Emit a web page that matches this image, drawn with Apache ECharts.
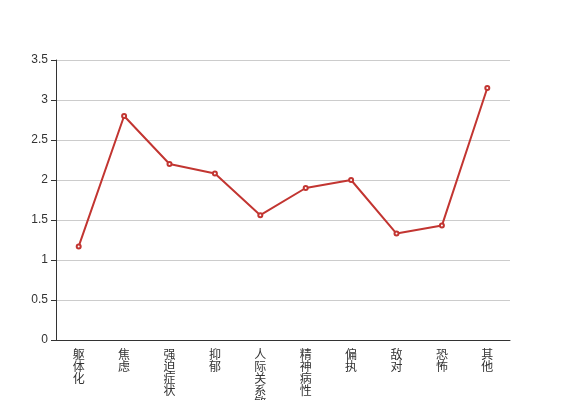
<!DOCTYPE html>
<html>
<head>
<meta charset="utf-8">
<script src="https://cdn.jsdelivr.net/npm/echarts@6/dist/echarts.min.js"></script>
<style>html,body{margin:0;padding:0;background:#fff}#c{width:567px;height:400px}</style>
</head>
<body>
<div id="c"></div>
<script>
var categories = ['躯体化','焦虑','强迫症状','抑郁','人际关系敏感','精神病性','偏执','敌对','恐怖','其他'];
var values = [1.17, 2.80, 2.20, 2.08, 1.56, 1.90, 2.00, 1.33, 1.43, 3.15];
var chart = echarts.init(document.getElementById('c'));
chart.setOption({
  animation: false,
  grid: {left: 56, right: 57, top: 60, bottom: 60, containLabel: false, outerBoundsMode: 'none'},
  xAxis: {
    type: 'category',
    data: categories,
    axisLine: {lineStyle: {color: '#333'}},
    axisTick: {lineStyle: {color: '#333'}},
    axisLabel: {
      color: '#333', fontSize: 12, lineHeight: 12, interval: 0,
      fontFamily: 'Noto Sans CJK SC',
      formatter: function (v) { return v.split('').join('\n'); }
    }
  },
  yAxis: {
    type: 'value', min: 0, max: 3.5, interval: 0.5,
    axisLine: {show: true, lineStyle: {color: '#333'}},
    axisTick: {show: true, lineStyle: {color: '#333'}},
    axisLabel: {color: '#333', fontSize: 12},
    splitLine: {lineStyle: {color: '#ccc'}}
  },
  series: [{
    type: 'line',
    data: values,
    symbol: 'emptyCircle',
    symbolSize: 4,
    itemStyle: {color: '#c23531'},
    lineStyle: {color: '#c23531', width: 2}
  }]
});
</script>
</body>
</html>
